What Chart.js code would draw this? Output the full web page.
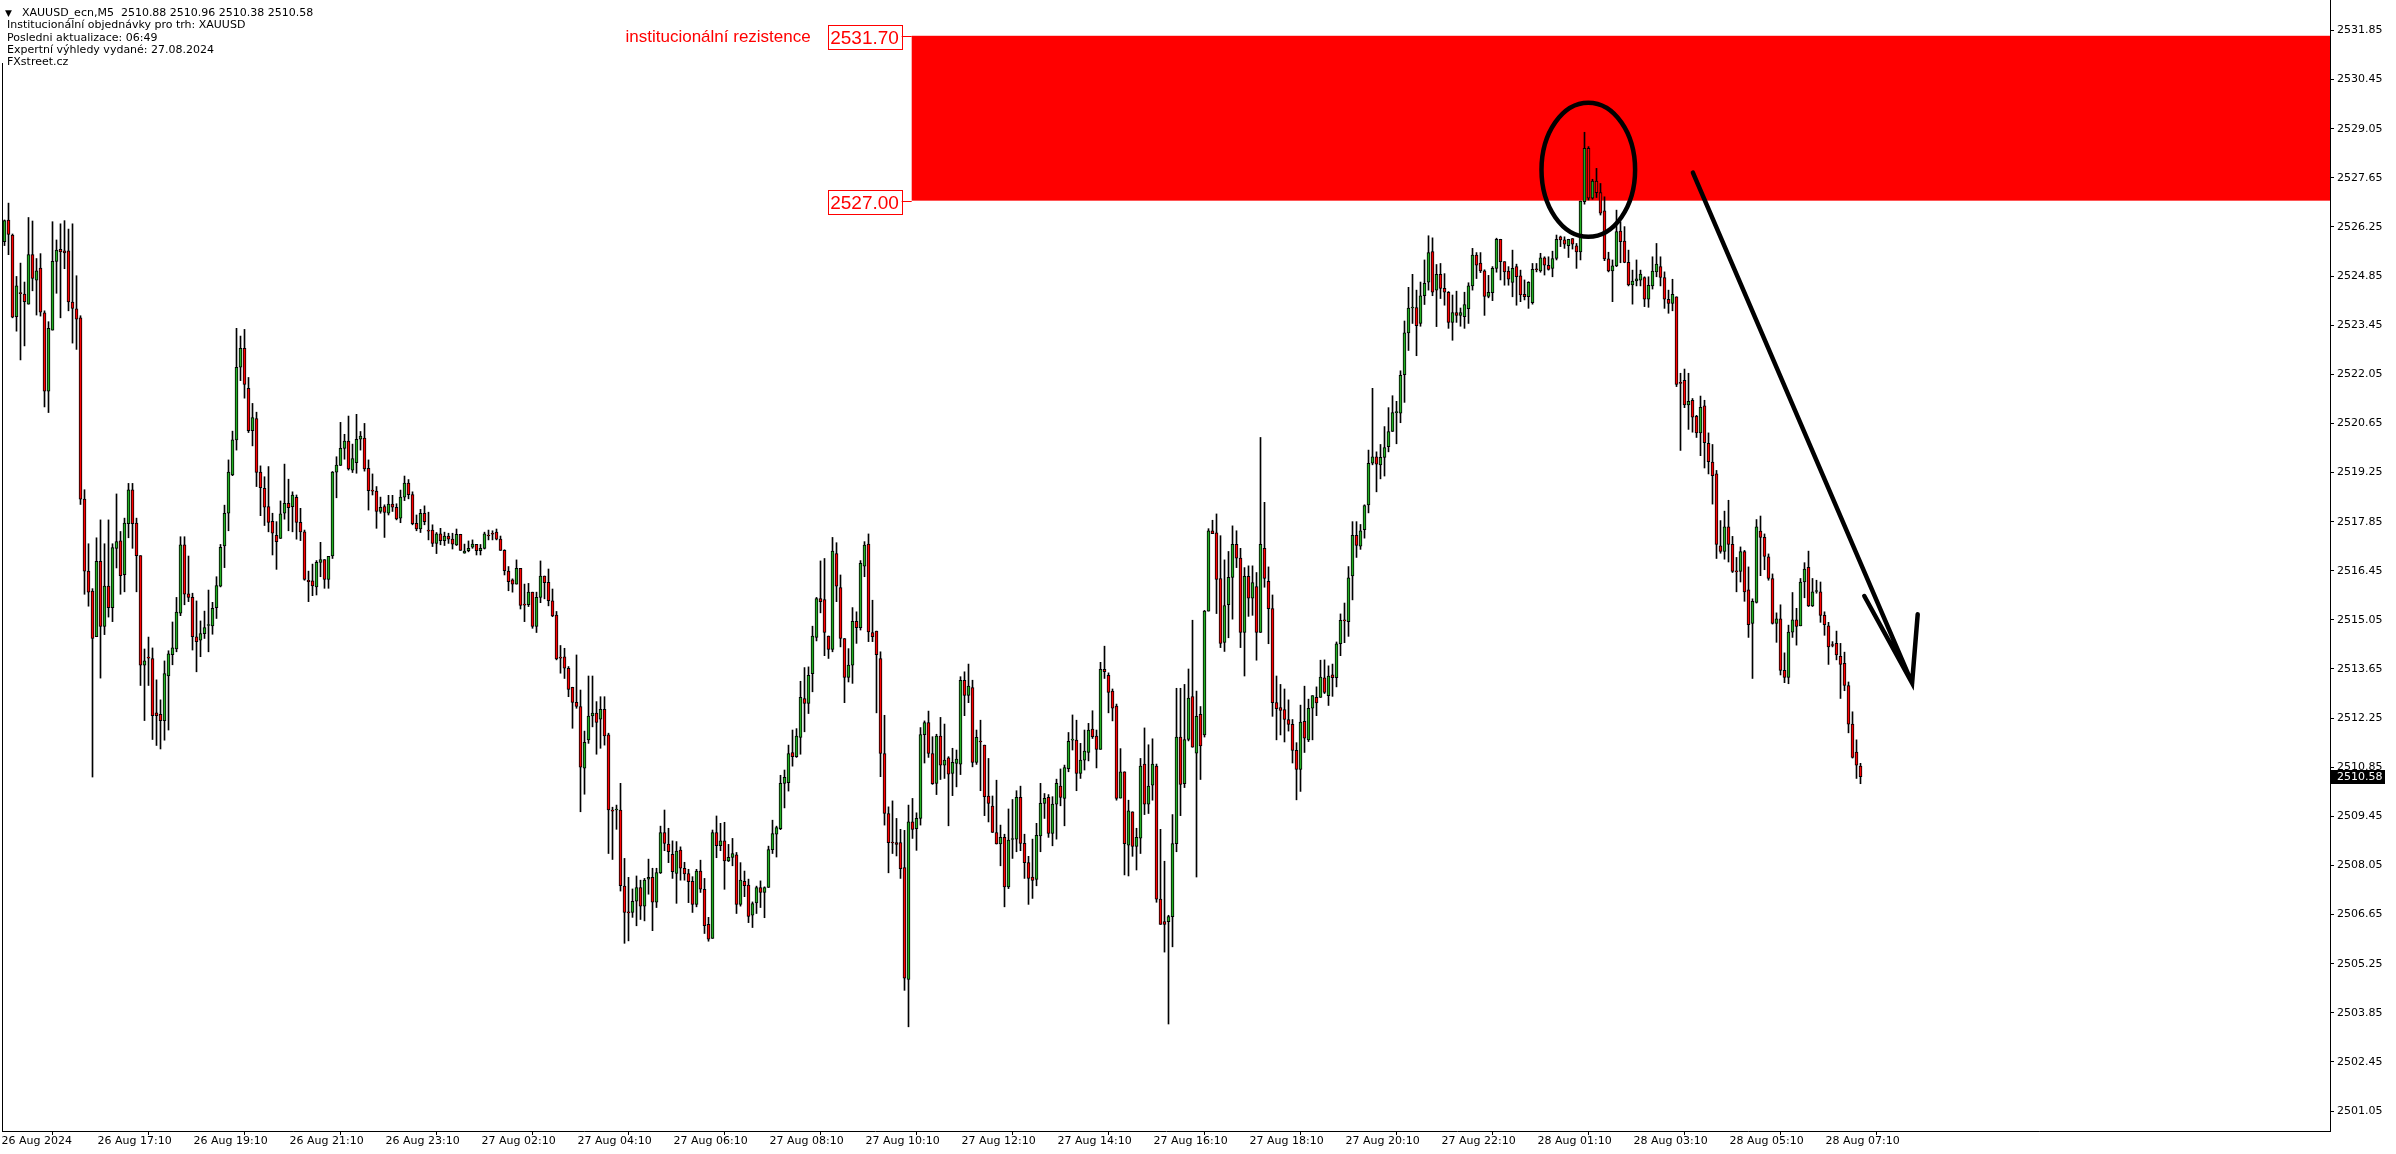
<!DOCTYPE html>
<html>
<head>
<meta charset="utf-8">
<script src="https://cdn.jsdelivr.net/npm/chart.js@4.4.1/dist/chart.umd.min.js"></script>
<style>
  html, body { margin: 0; padding: 0; background: #fff; overflow: hidden; }
  #wrap { position: relative; width: 2396px; height: 1154px; }
  #c { position: absolute; left: 0; top: 0; }
  #hdr { position: absolute; left: 0; top: 7px; font: 11px 'DejaVu Sans'; line-height: 12.3px; color: #000; }
  #hdr div { padding-left: 7px; white-space: pre; height: 12.3px; }
  #hdr .l1 { padding-left: 0; }
  #hdr .tri { display: inline-block; width: 22px; padding-left: 5px; box-sizing: border-box; font-size: 9px; }
</style>
</head>
<body>
<div id="wrap">
  <canvas id="c" width="2396" height="1154"></canvas>
  <div id="hdr"><div class="l1"><span class="tri">▼</span>XAUUSD_ecn,M5  2510.88 2510.96 2510.38 2510.58</div><div>Institucionální objednávky pro trh: XAUUSD</div><div>Posledni aktualizace: 06:49</div><div>Expertní výhledy vydané: 27.08.2024</div><div>FXstreet.cz</div></div>
</div>
<script>
// XAUUSD M5 candles, 26 Aug 15:10 -> 28 Aug 07:50 (one entry per bar)
const opens = [
  2525.83,2526.45,2526.02,2523.69,2524.37,2524.34,2524.05,2525.46,2524.73,2525.08,
  2523.80,2521.57,2523.31,2525.27,2525.61,2525.57,2525.57,2524.11,2523.92,2523.66,
  2518.49,2516.44,2515.87,2514.57,2516.72,2514.86,2516.01,2515.40,2517.09,2517.30,
  2516.34,2517.79,2518.76,2517.81,2516.88,2513.76,2513.98,2513.95,2512.40,2512.36,
  2512.18,2513.45,2514.06,2514.22,2515.24,2517.19,2515.79,2515.69,2514.57,2514.47,
  2514.66,2514.89,2514.88,2515.40,2516.01,2517.16,2518.09,2519.18,2520.18,2522.25,
  2522.79,2521.65,2520.44,2520.79,2519.26,2518.80,2518.28,2517.86,2517.46,2517.37,
  2518.09,2518.37,2518.28,2518.54,2517.83,2517.56,2516.18,2516.16,2515.99,2516.69,
  2516.77,2516.20,2516.87,2519.26,2519.45,2519.94,2520.15,2519.32,2519.53,2520.20,
  2520.23,2519.37,2518.73,2518.72,2518.14,2518.28,2518.09,2518.35,2518.26,2517.95,
  2518.55,2518.95,2518.62,2517.80,2517.64,2518.09,2517.60,2517.61,2517.23,2517.50,
  2517.31,2517.44,2517.35,2517.19,2517.49,2516.95,2517.02,2517.12,2517.20,2517.02,
  2517.09,2517.46,2517.52,2517.55,2517.35,2517.03,2516.44,2516.19,2516.07,2516.52,
  2515.49,2515.48,2515.84,2514.86,2515.69,2516.30,2516.12,2515.59,2515.19,2513.98,
  2514.00,2513.67,2513.13,2512.70,2512.58,2510.82,2511.63,2512.31,2512.39,2512.22,
  2512.50,2511.77,2509.62,2509.63,2509.63,2507.46,2506.72,2506.71,2507.03,2507.42,
  2506.89,2507.66,2507.71,2507.00,2507.84,2508.99,2508.66,2508.37,2507.82,2508.49,
  2507.97,2507.82,2507.60,2506.94,2507.89,2507.37,2506.37,2505.97,2508.99,2508.61,
  2508.75,2508.18,2508.28,2508.35,2506.94,2507.60,2507.49,2506.63,2506.98,2507.42,
  2507.28,2507.42,2508.50,2508.94,2509.10,2510.39,2510.41,2511.27,2511.15,2511.70,
  2512.81,2512.67,2513.52,2514.55,2515.66,2515.63,2514.59,2514.21,2516.94,2515.97,
  2514.52,2513.41,2513.76,2515.01,2514.83,2516.58,2517.21,2514.69,2514.73,2513.95,
  2511.24,2509.53,2508.71,2508.70,2508.70,2507.99,2504.80,2509.29,2509.10,2509.39,
  2511.78,2512.12,2511.24,2510.39,2511.74,2510.91,2511.12,2510.67,2510.96,2510.94,
  2513.33,2512.90,2513.12,2510.99,2511.59,2511.48,2510.03,2509.74,2508.99,2508.66,
  2508.85,2507.44,2508.79,2508.80,2509.99,2508.68,2508.13,2507.72,2507.65,2508.89,
  2509.82,2509.99,2508.96,2509.80,2510.31,2509.96,2510.81,2511.62,2511.62,2510.67,
  2511.05,2511.27,2511.94,2511.74,2511.36,2513.64,2513.47,2513.02,2512.59,2509.97,
  2510.72,2508.63,2509.58,2508.59,2508.83,2510.94,2509.80,2510.34,2510.88,2507.09,
  2506.45,2506.45,2506.59,2508.67,2511.71,2510.38,2511.64,2512.86,2511.25,2512.36,
  2511.77,2515.30,2517.59,2517.53,2516.23,2514.41,2515.48,2516.26,2517.20,2516.81,
  2514.69,2516.29,2515.67,2516.00,2514.69,2517.09,2516.15,2515.37,2512.69,2512.55,
  2512.49,2512.21,2512.07,2511.33,2510.79,2512.16,2511.63,2512.53,2512.84,2512.84,
  2513.40,2512.89,2513.48,2513.40,2514.37,2515.04,2515.00,2516.30,2517.46,2517.15,
  2517.62,2518.33,2519.52,2519.70,2519.47,2519.68,2519.99,2520.42,2520.96,2520.94,
  2522.04,2523.23,2523.94,2523.95,2523.50,2524.29,2524.68,2525.55,2524.45,2524.90,
  2524.50,2524.39,2523.53,2523.81,2523.73,2523.69,2523.92,2524.57,2525.45,2525.22,
  2525.00,2524.27,2524.38,2525.07,2525.90,2525.26,2524.99,2524.67,2525.12,2524.86,
  2524.33,2524.26,2524.09,2525.05,2525.00,2525.37,2525.16,2525.07,2525.35,2525.97,
  2525.88,2525.72,2525.92,2525.71,2525.54,2526.97,2528.49,2527.07,2527.56,2527.23,
  2526.71,2525.34,2525.00,2525.14,2526.13,2525.85,2525.24,2524.60,2524.71,2524.73,
  2524.81,2524.19,2524.57,2524.97,2525.12,2524.81,2524.19,2524.07,2524.26,2521.81,
  2521.88,2521.18,2521.31,2520.85,2520.38,2521.15,2520.08,2519.55,2519.21,2517.16,
  2517.00,2517.70,2517.20,2516.44,2516.43,2517.00,2515.91,2514.95,2515.55,2517.58,
  2517.40,2516.85,2516.23,2514.95,2515.08,2513.61,2513.41,2514.70,2515.05,2514.88,
  2516.13,2516.55,2515.45,2515.86,2515.85,2515.18,2514.88,2514.33,2514.38,2514.01,
  2513.81,2513.18,2512.08,2511.28,2510.88
];
const highs = [
  2526.45,2526.93,2526.05,2524.84,2525.22,2524.68,2526.52,2526.42,2525.35,2525.49,
  2523.86,2523.55,2526.40,2525.88,2526.34,2526.43,2526.19,2526.34,2524.86,2523.72,
  2518.76,2517.22,2515.94,2517.39,2517.90,2517.22,2517.90,2517.22,2518.64,2517.57,
  2517.95,2518.94,2518.94,2517.95,2516.88,2514.22,2514.56,2514.25,2513.34,2512.77,
  2513.88,2514.17,2514.99,2515.69,2517.42,2517.42,2516.87,2515.81,2515.59,2515.02,
  2515.30,2515.90,2515.55,2516.28,2517.20,2518.32,2519.61,2520.43,2523.36,2523.14,
  2523.33,2521.96,2521.22,2520.97,2519.44,2519.13,2519.42,2518.09,2517.85,2518.44,
  2519.49,2519.06,2518.70,2518.61,2518.23,2517.61,2516.44,2516.64,2516.74,2517.26,
  2516.77,2516.86,2519.28,2519.70,2520.68,2520.34,2520.86,2520.06,2520.91,2520.42,
  2520.65,2519.61,2519.21,2518.85,2518.55,2518.33,2518.60,2518.60,2518.36,2518.75,
  2519.15,2519.05,2518.70,2518.04,2518.20,2518.30,2518.12,2517.76,2517.54,2517.66,
  2517.55,2517.52,2517.52,2517.64,2517.49,2517.21,2517.30,2517.33,2517.20,2517.20,
  2517.55,2517.61,2517.59,2517.64,2517.44,2517.05,2516.57,2516.22,2516.76,2516.52,
  2516.07,2516.09,2515.84,2515.84,2516.73,2516.30,2516.50,2515.93,2515.29,2514.32,
  2514.24,2513.72,2513.13,2514.05,2513.05,2511.88,2513.45,2513.45,2512.72,2512.86,
  2512.86,2511.82,2509.71,2509.77,2510.39,2508.25,2507.71,2507.38,2507.75,2507.63,
  2507.68,2508.23,2507.97,2507.97,2509.17,2509.63,2509.11,2508.75,2508.73,2508.58,
  2508.14,2507.94,2507.73,2507.94,2508.20,2507.68,2506.57,2509.06,2509.46,2509.25,
  2509.28,2508.65,2508.82,2508.42,2508.13,2507.89,2507.66,2507.01,2507.46,2507.61,
  2507.44,2508.60,2509.34,2509.17,2510.62,2510.77,2511.48,2511.91,2511.95,2513.30,
  2513.69,2513.71,2514.87,2515.69,2516.73,2516.80,2514.59,2517.40,2517.25,2516.33,
  2514.52,2514.23,2515.40,2515.28,2516.74,2517.28,2517.50,2515.61,2514.73,2514.14,
  2512.33,2509.72,2509.89,2509.39,2509.08,2509.05,2509.77,2509.96,2509.55,2511.98,
  2512.17,2512.45,2511.72,2511.79,2512.27,2512.08,2511.15,2511.39,2511.34,2513.43,
  2513.57,2513.79,2513.33,2511.91,2512.19,2511.48,2511.10,2510.03,2510.48,2509.20,
  2508.94,2509.66,2509.93,2510.18,2510.31,2508.94,2508.31,2508.80,2509.25,2510.39,
  2510.10,2510.07,2510.01,2510.51,2510.80,2510.91,2511.84,2512.34,2512.19,2511.53,
  2511.91,2512.10,2512.46,2511.91,2513.84,2514.30,2513.54,2513.08,2512.65,2511.38,
  2510.72,2509.91,2509.58,2509.11,2511.10,2511.97,2511.49,2511.66,2510.94,2509.08,
  2508.17,2506.63,2509.50,2513.10,2513.10,2513.21,2513.65,2515.04,2513.02,2512.58,
  2515.32,2517.65,2517.89,2518.07,2517.45,2516.76,2517.00,2517.73,2517.59,2517.09,
  2516.54,2516.59,2516.59,2516.40,2520.25,2518.40,2516.56,2515.76,2513.45,2513.21,
  2513.08,2512.77,2512.21,2511.55,2512.62,2513.16,2512.79,2512.89,2513.14,2513.90,
  2513.91,2513.74,2513.79,2514.42,2515.22,2515.53,2516.57,2517.85,2517.85,2517.77,
  2518.33,2519.89,2521.65,2519.84,2520.05,2520.56,2521.10,2521.44,2521.28,2522.15,
  2523.57,2524.53,2524.90,2524.45,2524.68,2525.31,2526.00,2525.94,2525.18,2525.21,
  2524.92,2524.41,2524.31,2524.42,2523.94,2524.39,2524.66,2525.64,2525.52,2525.52,
  2525.03,2524.87,2525.12,2525.93,2525.90,2525.26,2525.12,2525.59,2525.19,2525.02,
  2524.74,2524.69,2525.21,2525.21,2525.50,2525.40,2525.40,2525.56,2526.02,2525.99,
  2525.97,2525.90,2525.92,2525.78,2526.99,2528.95,2528.54,2527.61,2527.92,2527.49,
  2527.11,2525.53,2525.31,2526.73,2526.40,2526.26,2525.59,2525.02,2525.31,2525.02,
  2524.83,2524.83,2525.40,2525.78,2525.40,2524.97,2524.45,2524.76,2524.26,2522.08,
  2522.20,2522.08,2521.36,2520.88,2521.43,2521.31,2520.38,2520.05,2519.31,2517.88,
  2518.15,2518.46,2517.43,2516.83,2517.13,2517.03,2516.56,2515.65,2517.91,2518.01,
  2517.50,2516.93,2516.36,2515.25,2515.48,2514.11,2514.90,2515.83,2515.38,2516.23,
  2516.68,2517.01,2516.23,2516.18,2516.13,2515.28,2514.98,2514.43,2514.73,2514.38,
  2514.13,2513.28,2512.43,2511.63,2510.96
];
const lows = [
  2525.72,2525.46,2523.66,2523.28,2522.46,2522.86,2524.05,2524.43,2523.74,2523.71,
  2521.12,2520.96,2523.31,2524.36,2523.66,2525.06,2523.86,2522.94,2522.76,2518.34,
  2515.78,2515.44,2510.57,2514.57,2513.39,2514.63,2515.13,2515.00,2516.53,2515.78,
  2515.85,2517.39,2517.09,2515.85,2513.18,2512.18,2513.18,2511.64,2511.47,2511.37,
  2511.62,2511.91,2513.77,2514.14,2515.17,2515.48,2515.57,2514.19,2513.57,2514.00,
  2514.52,2514.14,2514.64,2515.09,2515.99,2516.54,2517.59,2519.16,2519.89,2521.87,
  2521.37,2520.39,2520.01,2518.85,2518.02,2517.74,2517.56,2516.90,2516.49,2517.37,
  2517.92,2517.59,2517.56,2517.35,2517.31,2516.18,2515.57,2515.74,2515.76,2516.28,
  2515.95,2515.95,2516.80,2518.53,2519.45,2519.63,2519.32,2519.25,2519.23,2519.89,
  2519.29,2518.18,2518.61,2517.66,2518.09,2517.40,2518.04,2518.14,2517.90,2517.82,
  2518.45,2518.50,2517.76,2517.59,2517.54,2517.76,2517.33,2517.14,2516.94,2517.19,
  2517.17,2517.23,2517.07,2517.17,2517.03,2516.95,2516.99,2517.09,2516.90,2516.90,
  2517.07,2517.33,2517.33,2517.33,2517.03,2516.33,2515.88,2515.84,2516.07,2515.36,
  2515.00,2515.43,2514.81,2514.69,2515.54,2515.65,2515.45,2515.14,2513.91,2513.53,
  2513.38,2512.86,2511.96,2512.53,2509.58,2510.08,2511.53,2512.00,2511.22,2511.39,
  2511.48,2508.39,2508.22,2509.08,2507.32,2505.83,2505.90,2506.57,2506.33,2506.51,
  2506.47,2507.23,2506.19,2506.85,2507.82,2508.47,2508.13,2507.68,2506.97,2507.63,
  2507.63,2506.99,2506.71,2506.87,2507.28,2506.11,2505.89,2505.97,2508.27,2508.47,
  2507.37,2508.16,2508.04,2506.68,2506.89,2507.16,2506.42,2506.28,2506.68,2506.85,
  2506.56,2507.42,2508.39,2508.29,2509.07,2509.69,2510.17,2510.88,2511.13,2511.22,
  2511.86,2512.38,2513.00,2514.45,2515.25,2514.03,2513.95,2514.14,2515.57,2514.28,
  2512.69,2513.28,2513.24,2514.38,2514.76,2516.28,2514.43,2514.43,2512.40,2510.58,
  2509.20,2507.84,2508.39,2508.32,2507.68,2504.49,2503.45,2508.82,2508.48,2509.20,
  2510.97,2511.13,2510.36,2510.07,2510.50,2510.53,2509.18,2510.04,2510.29,2510.64,
  2512.32,2512.69,2510.86,2510.93,2510.18,2509.47,2509.29,2508.99,2508.66,2508.04,
  2506.87,2507.39,2508.25,2508.44,2508.47,2507.68,2506.94,2507.11,2507.47,2508.44,
  2509.39,2508.85,2508.61,2508.80,2509.75,2509.18,2510.72,2511.34,2510.18,2510.53,
  2510.77,2511.03,2511.67,2510.83,2511.36,2513.38,2512.40,2512.17,2509.91,2509.97,
  2507.78,2507.75,2508.31,2507.92,2508.39,2509.50,2509.53,2509.91,2507.00,2506.37,
  2505.58,2503.53,2505.73,2508.44,2509.47,2510.27,2511.60,2511.42,2507.72,2510.50,
  2511.71,2515.30,2517.51,2515.23,2514.26,2514.15,2514.54,2515.07,2516.54,2514.26,
  2513.45,2515.15,2515.18,2513.90,2514.69,2515.98,2514.37,2512.30,2511.63,2511.77,
  2511.57,2511.88,2510.97,2509.92,2510.16,2511.27,2511.58,2511.63,2512.32,2512.84,
  2512.95,2512.61,2512.87,2513.14,2514.03,2514.40,2514.58,2515.62,2516.83,2517.06,
  2517.38,2518.10,2519.47,2518.70,2519.07,2519.15,2519.84,2520.42,2520.07,2520.67,
  2521.25,2522.73,2523.50,2522.58,2523.42,2524.04,2524.45,2524.29,2523.41,2524.21,
  2524.02,2523.36,2523.02,2523.53,2523.42,2523.36,2523.50,2524.45,2524.78,2524.95,
  2523.73,2524.23,2524.15,2524.96,2524.74,2524.59,2524.59,2524.26,2524.02,2524.12,
  2524.17,2523.93,2524.05,2524.97,2524.96,2524.88,2525.02,2524.83,2525.31,2525.69,
  2525.64,2525.38,2525.62,2525.07,2525.31,2526.90,2527.02,2527.04,2527.09,2526.59,
  2525.29,2524.97,2524.12,2525.12,2525.23,2525.23,2524.57,2524.05,2524.57,2524.57,
  2523.98,2523.96,2524.48,2524.83,2524.57,2523.93,2523.79,2523.86,2521.70,2519.88,
  2521.10,2520.48,2520.40,2520.25,2519.73,2519.38,2519.21,2518.35,2516.80,2516.95,
  2516.78,2516.70,2516.40,2515.85,2516.13,2515.58,2514.55,2513.38,2515.53,2516.31,
  2516.48,2516.18,2514.93,2514.41,2513.48,2513.26,2513.23,2514.55,2514.33,2514.88,
  2515.68,2515.43,2515.43,2515.81,2514.98,2514.61,2513.78,2514.28,2513.91,2512.81,
  2513.03,2511.83,2511.11,2510.53,2510.38
];
const closes = [
  2526.43,2526.04,2523.68,2524.57,2524.35,2524.12,2525.46,2524.78,2525.00,2523.82,
  2521.57,2523.36,2525.27,2525.59,2525.54,2525.51,2524.11,2523.93,2523.62,2518.49,
  2516.44,2515.84,2514.52,2516.72,2514.86,2516.01,2515.40,2517.11,2517.28,2516.31,
  2517.81,2518.76,2517.79,2516.88,2513.76,2513.88,2513.96,2512.32,2512.32,2512.18,
  2513.52,2514.08,2514.25,2515.27,2517.19,2515.78,2515.69,2514.57,2514.43,2514.66,
  2514.83,2514.91,2515.38,2516.03,2517.12,2518.09,2519.26,2520.18,2522.25,2522.79,
  2521.76,2520.44,2520.82,2519.25,2518.82,2518.26,2517.83,2517.52,2517.28,2518.07,
  2518.37,2518.25,2518.61,2517.83,2517.56,2516.20,2516.14,2516.02,2516.69,2516.77,
  2516.20,2516.86,2519.26,2519.46,2519.94,2520.15,2519.35,2519.65,2520.20,2520.29,
  2519.35,2518.73,2518.72,2518.14,2518.26,2518.11,2518.35,2518.26,2517.93,2518.55,
  2518.95,2518.62,2517.79,2517.64,2518.09,2517.85,2517.58,2517.23,2517.50,2517.31,
  2517.44,2517.35,2517.21,2517.49,2517.03,2517.01,2517.09,2517.21,2517.02,2517.09,
  2517.50,2517.44,2517.49,2517.35,2517.03,2516.45,2516.14,2516.07,2516.52,2515.46,
  2515.47,2515.84,2514.86,2515.69,2516.30,2516.11,2515.60,2515.16,2513.94,2513.96,
  2513.67,2513.07,2512.70,2512.58,2510.85,2511.56,2512.31,2512.39,2512.13,2512.50,
  2511.74,2509.63,2509.60,2509.64,2507.47,2506.71,2506.70,2507.03,2507.42,2506.89,
  2507.63,2507.71,2507.00,2507.85,2508.99,2508.68,2508.44,2507.87,2508.46,2507.97,
  2507.81,2507.59,2506.94,2507.89,2507.37,2506.33,2505.95,2508.99,2508.61,2508.75,
  2508.18,2508.28,2508.39,2506.94,2507.63,2507.47,2506.60,2506.96,2507.42,2507.28,
  2507.42,2508.50,2508.96,2509.13,2510.39,2510.56,2511.24,2511.15,2511.74,2512.84,
  2512.67,2513.47,2514.59,2515.66,2515.57,2514.69,2514.21,2517.01,2516.01,2514.52,
  2513.41,2513.76,2515.01,2514.83,2516.66,2517.18,2514.71,2514.57,2514.06,2511.24,
  2509.53,2508.70,2508.69,2508.65,2507.96,2504.84,2509.29,2509.08,2509.39,2511.78,
  2512.12,2511.24,2510.38,2511.74,2510.91,2511.05,2510.65,2510.99,2511.08,2513.33,
  2512.90,2513.16,2510.99,2511.70,2511.57,2510.01,2509.82,2508.99,2508.66,2508.85,
  2507.44,2508.77,2508.81,2509.99,2508.68,2508.13,2507.68,2507.62,2508.91,2509.82,
  2509.96,2508.96,2509.80,2510.39,2509.99,2510.84,2511.59,2511.64,2510.67,2511.05,
  2511.31,2511.91,2511.72,2511.36,2513.64,2513.57,2512.98,2512.53,2509.96,2510.72,
  2508.67,2509.61,2508.59,2508.85,2510.88,2509.80,2510.31,2510.94,2507.09,2506.37,
  2506.37,2506.59,2508.67,2511.71,2510.36,2511.64,2512.82,2511.42,2512.30,2511.46,
  2515.30,2517.59,2517.51,2516.20,2514.38,2515.46,2516.26,2517.20,2516.81,2514.69,
  2516.29,2515.67,2516.11,2514.69,2517.20,2516.23,2515.37,2512.69,2512.52,2512.47,
  2512.21,2512.07,2511.33,2510.79,2512.14,2511.68,2512.53,2512.89,2512.68,2513.42,
  2512.98,2513.45,2513.40,2514.37,2515.04,2515.02,2516.25,2517.46,2517.17,2517.59,
  2518.31,2519.51,2519.70,2519.49,2519.68,2519.96,2520.42,2520.96,2520.97,2522.02,
  2523.23,2523.94,2523.96,2523.44,2524.29,2524.64,2525.52,2524.39,2524.90,2524.50,
  2524.39,2523.53,2523.81,2523.73,2523.81,2524.04,2524.57,2525.45,2525.16,2525.00,
  2524.27,2524.39,2525.07,2525.90,2525.26,2524.97,2524.76,2525.07,2524.83,2524.31,
  2524.26,2524.67,2525.04,2525.03,2525.37,2525.16,2525.04,2525.35,2525.90,2525.88,
  2525.76,2525.90,2525.76,2525.54,2526.99,2528.49,2527.07,2527.56,2527.23,2526.64,
  2525.34,2525.00,2525.14,2526.12,2525.83,2525.24,2524.60,2524.71,2524.77,2524.91,
  2524.19,2524.59,2524.99,2525.19,2524.81,2524.19,2524.07,2524.33,2521.76,2521.79,
  2521.18,2521.28,2520.83,2520.38,2521.11,2520.10,2519.56,2519.16,2517.20,2517.00,
  2517.70,2517.20,2516.43,2516.42,2517.00,2515.85,2514.91,2515.58,2517.70,2517.40,
  2516.86,2516.23,2514.95,2515.08,2513.61,2513.41,2514.70,2515.05,2514.86,2516.13,
  2516.50,2515.45,2515.85,2515.87,2515.18,2514.91,2514.28,2514.32,2514.05,2513.78,
  2513.18,2512.08,2511.13,2510.91,2510.58
];

// time axis: bar index of each label and its text
const tickBars = [0, 24, 48, 72, 96, 120, 144, 168, 192, 216, 240, 264, 288, 312, 336, 360, 384, 408, 432, 456];
const tickLabels = ['26 Aug 2024', '26 Aug 17:10', '26 Aug 19:10', '26 Aug 21:10', '26 Aug 23:10',
  '27 Aug 02:10', '27 Aug 04:10', '27 Aug 06:10', '27 Aug 08:10', '27 Aug 10:10', '27 Aug 12:10',
  '27 Aug 14:10', '27 Aug 16:10', '27 Aug 18:10', '27 Aug 20:10', '27 Aug 22:10',
  '28 Aug 01:10', '28 Aug 03:10', '28 Aug 05:10', '28 Aug 07:10'];
const priceTicks = [2531.85, 2530.45, 2529.05, 2527.65, 2526.25, 2524.85, 2523.45, 2522.05, 2520.65,
  2519.25, 2517.85, 2516.45, 2515.05, 2513.65, 2512.25, 2510.85, 2509.45, 2508.05, 2506.65,
  2505.25, 2503.85, 2502.45, 2501.05];

// drawn objects (bar index / price)
const zoneTop = 2531.70, zoneBottom = 2527.00, zoneStartBar = 226.8;
const zoneLabel = 'institucionální rezistence';
const ellipseCenter = [395.95, 2527.88], ellipseRadius = [11.7, 1.91];
const arrowFrom = [422.1, 2527.80], arrowTo = [476.9, 2513.25];
const arrowWingL = [464.95, 2515.73], arrowWingR = [478.3, 2515.21];

const BULL = '#22b022', BEAR = '#ff0000';

Chart.defaults.font.family = 'DejaVu Sans';
Chart.defaults.font.size = 11;
Chart.defaults.color = '#000';

const bodies = opens.map((o, i) => ({ x: i, y: [Math.min(o, closes[i]), Math.max(o, closes[i])] }));
const wicks = highs.map((h, i) => ({ x: i, y: [lows[i], h] }));
const bodyColors = opens.map((o, i) => closes[i] >= o ? BULL : BEAR);

// ---------- overlay: zone, ellipse, arrow, labels ----------
const overlay = {
  id: 'overlay',
  beforeDatasetsDraw(chart) {
    const { ctx, chartArea: a, scales: { x, y } } = chart;
    const x0 = x.getPixelForValue(zoneStartBar);
    const y0 = y.getPixelForValue(zoneTop), y1 = y.getPixelForValue(zoneBottom);
    ctx.save();
    ctx.fillStyle = '#ff0000';
    ctx.fillRect(x0, y0, a.right - x0, y1 - y0);
    ctx.restore();
  },
  afterDatasetsDraw(chart) {
    const { ctx, scales: { x, y } } = chart;
    ctx.save();
    ctx.strokeStyle = '#000';
    ctx.lineWidth = 4.5;
    ctx.lineCap = 'round';
    // ellipse round the spike
    const cx = x.getPixelForValue(ellipseCenter[0]), cy = y.getPixelForValue(ellipseCenter[1]);
    const rx = x.getPixelForValue(ellipseCenter[0] + ellipseRadius[0]) - cx;
    const ry = y.getPixelForValue(ellipseCenter[1] - ellipseRadius[1]) - cy;
    ctx.beginPath();
    ctx.ellipse(cx, cy, rx, ry, 0, 0, Math.PI * 2);
    ctx.stroke();
    // arrow
    const p = v => [x.getPixelForValue(v[0]), y.getPixelForValue(v[1])];
    const [ax, ay] = p(arrowFrom), [tx, ty] = p(arrowTo), [lx, ly] = p(arrowWingL), [rx2, ry2] = p(arrowWingR);
    ctx.beginPath();
    ctx.moveTo(ax, ay); ctx.lineTo(tx, ty);
    ctx.moveTo(lx, ly); ctx.lineTo(tx, ty); ctx.lineTo(rx2, ry2);
    ctx.stroke();
    ctx.restore();
  },
  afterDraw(chart) {
    const { ctx, chartArea: a, scales: { x, y } } = chart;
    ctx.save();
    // left frame line (below the comment block)
    ctx.strokeStyle = '#000';
    ctx.lineWidth = 1;
    ctx.beginPath();
    ctx.moveTo(a.left + 0.5, 63); ctx.lineTo(a.left + 0.5, a.bottom);
    ctx.stroke();

    // zone price boxes
    const zx = x.getPixelForValue(zoneStartBar);
    const boxR = zx - 10, boxW = 74, boxH = 24;
    ctx.font = '19px "Liberation Sans"';
    [zoneTop, zoneBottom].forEach(v => {
      const py = Math.round(y.getPixelForValue(v)) + 0.5;
      ctx.strokeStyle = '#ff0000';
      ctx.fillStyle = '#fff';
      ctx.fillRect(boxR - boxW, py - boxH / 2, boxW, boxH);
      ctx.strokeRect(Math.round(boxR - boxW) + 0.5, Math.round(py - boxH / 2) + 0.5, boxW, boxH);
      ctx.beginPath();
      ctx.moveTo(boxR, py); ctx.lineTo(zx, py);
      ctx.stroke();
      ctx.fillStyle = '#ff0000';
      ctx.textAlign = 'left';
      ctx.textBaseline = 'alphabetic';
      ctx.fillText(v.toFixed(2), boxR - boxW + 2.5, py + 7);
    });
    ctx.font = '17px "Liberation Sans"';
    ctx.fillStyle = '#ff0000';
    ctx.textAlign = 'right';
    ctx.fillText(zoneLabel, boxR - boxW - 17, y.getPixelForValue(zoneTop) + 6);

    // current price tag
    const last = closes[closes.length - 1];
    const ly = Math.round(y.getPixelForValue(last));
    ctx.fillStyle = '#000';
    ctx.fillRect(a.right + 1, ly - 7, 54, 14);
    ctx.fillStyle = '#fff';
    ctx.font = '11px "DejaVu Sans"';
    ctx.textAlign = 'left';
    ctx.textBaseline = 'middle';
    ctx.fillText(last.toFixed(2), a.right + 7, ly + 0.5);
    ctx.restore();
  }
};

new Chart(document.getElementById('c'), {
  type: 'bar',
  data: {
    datasets: [
      { data: bodies, backgroundColor: bodyColors, borderColor: '#000', borderWidth: 1, borderSkipped: false,
        barThickness: 3, minBarLength: 1, grouped: false, order: 0 },
      { data: wicks, backgroundColor: '#000', borderWidth: 0, barThickness: 1, grouped: false, order: 1 }
    ]
  },
  options: {
    responsive: false,
    animation: false,
    devicePixelRatio: 1,
    layout: { padding: { left: 2, top: 0, right: 0, bottom: 0 } },
    plugins: { legend: { display: false }, tooltip: { enabled: false } },
    scales: {
      x: {
        type: 'linear', min: -0.625, max: 581.375, offset: false,
        grid: { display: true, drawOnChartArea: false, drawTicks: true, tickLength: 4, color: '#000' },
        border: { display: true, color: '#000', width: 1 },
        ticks: { autoSkip: false, maxRotation: 0, align: 'start', labelOffset: -3, padding: 0,
          callback: (v, i) => tickLabels[i] },
        afterBuildTicks: s => { s.ticks = tickBars.map(v => ({ value: v })); },
        afterFit: s => { s.height = 23; s.paddingLeft = 0; s.paddingRight = 0; }
      },
      y: {
        position: 'right', min: 2500.48, max: 2532.72,
        grid: { display: true, drawOnChartArea: false, drawTicks: true, tickLength: 4, color: '#000' },
        border: { display: true, color: '#000', width: 1 },
        ticks: { padding: 3, callback: v => v.toFixed(2) },
        afterBuildTicks: s => { s.ticks = priceTicks.map(v => ({ value: v })); },
        afterFit: s => { s.width = 66; s.paddingTop = 0; s.paddingBottom = 0; }
      }
    }
  },
  plugins: [overlay]
});
</script>
</body>
</html>
